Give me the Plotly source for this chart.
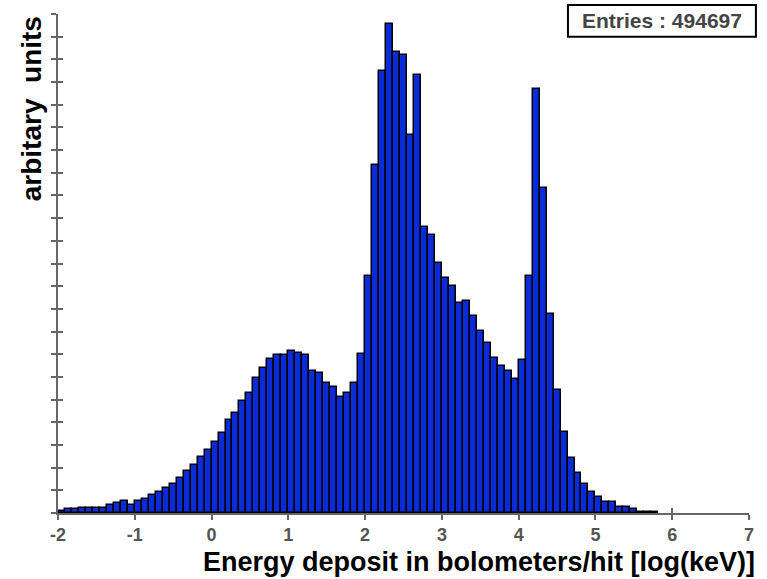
import plotly.graph_objects as go

# Histogram definition: 99 bins from -2 to 7
bin_low = -2.0
bin_width = 9.0 / 99.0

# Bin contents (arbitrary units; one y-tick step = 1)
values = [
    0.075, 0.18, 0.18, 0.23, 0.23, 0.23, 0.23, 0.34, 0.43, 0.54,
    0.34, 0.54, 0.63, 0.81, 0.91, 1.09, 1.27, 1.56, 1.85, 2.12,
    2.48, 2.78, 3.15, 3.52, 4.10, 4.43, 4.94, 5.31, 5.94, 6.41,
    6.78, 6.97, 6.97, 7.16, 7.07, 6.97, 6.24, 6.17, 5.75, 5.57,
    5.13, 5.31, 5.71, 7.03, 10.47, 15.36, 19.47, 21.54, 20.31, 20.21,
    16.68, 19.30, 12.63, 12.27, 11.02, 10.38, 10.02, 9.25, 9.36, 8.69,
    8.03, 7.49, 6.83, 6.46, 6.28, 5.90, 6.73, 10.47, 18.70, 14.33,
    8.77, 5.43, 3.56, 2.44, 1.75, 1.28, 0.91, 0.72, 0.50, 0.50,
    0.28, 0.28, 0.18, 0.06, 0.06, 0.06,
]

x_ticks = [-2, -1, 0, 1, 2, 3, 4, 5, 6, 7]
x_tick_labels = ["-2", "-1", "0", "1", "2", "3", "4", "5", "6", "7"]
entries = 494697
x_title = "Energy deposit in bolometers/hit [log(keV)]"
y_title = "arbitary&nbsp; units"

centers = [bin_low + (i + 0.5) * bin_width for i in range(len(values))]

FONT = "Liberation Sans, Arial, Helvetica, sans-serif"
AXCOL = "#666666"

fig = go.Figure()
fig.add_trace(go.Bar(
    x=centers, y=values, width=bin_width,
    marker=dict(color="#0b2bd9", line=dict(color="black", width=1.5)),
    showlegend=False, hoverinfo="skip",
))
# dummy trace so the overlay axes (inner tick halves) are drawn
fig.add_trace(go.Scatter(x=[None], y=[None], xaxis="x2", yaxis="y2",
                         showlegend=False, hoverinfo="skip"))

common_x = dict(range=[-2, 7], tickvals=x_ticks, showgrid=False, zeroline=False)
common_y = dict(range=[0, 22], tick0=0, dtick=1, showgrid=False, zeroline=False)

fig.update_layout(
    width=767, height=579,
    margin=dict(l=58, r=18, t=14, b=66),
    paper_bgcolor="white", plot_bgcolor="white",
    bargap=0,
    font=dict(family=FONT),
    xaxis=dict(**common_x, ticktext=x_tick_labels, ticks="outside", ticklen=5,
               tickwidth=1.5, tickcolor=AXCOL, showline=True, linecolor=AXCOL,
               linewidth=1.5,
               tickfont=dict(family=FONT, size=18, color="#555555", weight="bold")),
    yaxis=dict(**common_y, ticks="outside", ticklen=5, tickwidth=1.5,
               tickcolor=AXCOL, showline=True, linecolor=AXCOL, linewidth=1.5,
               showticklabels=False),
    xaxis2=dict(**common_x, overlaying="x", anchor="y2", ticks="inside",
                ticklen=5, tickwidth=1.5, tickcolor=AXCOL, showline=False,
                showticklabels=False, layer="below traces"),
    yaxis2=dict(**common_y, overlaying="y", anchor="x2", side="left",
                ticks="inside", ticklen=5, tickwidth=1.5, tickcolor=AXCOL,
                showline=False, showticklabels=False, layer="below traces"),
)

fig.add_annotation(
    text=x_title, xref="paper", yref="paper", x=1.0116, y=-0.098,
    xanchor="right", yanchor="middle", showarrow=False,
    font=dict(family=FONT, size=27, color="black", weight="bold"),
)
fig.add_annotation(
    text=y_title, xref="paper", yref="paper", x=-0.038, y=1.0,
    xanchor="center", yanchor="top", textangle=-90, showarrow=False,
    font=dict(family=FONT, size=28, color="black", weight="bold"),
)

fig.add_shape(type="rect", xref="paper", yref="paper",
              x0=0.738, x1=1.010, y0=0.9545, y1=1.018,
              line=dict(color="black", width=2), fillcolor="white", layer="above")
fig.add_annotation(
    text=f"Entries : {entries}", xref="paper", yref="paper", x=0.874, y=0.986,
    xanchor="center", yanchor="middle", showarrow=False,
    font=dict(family=FONT, size=21, color="#444444", weight="bold"),
)

fig.write_html("out.html")
